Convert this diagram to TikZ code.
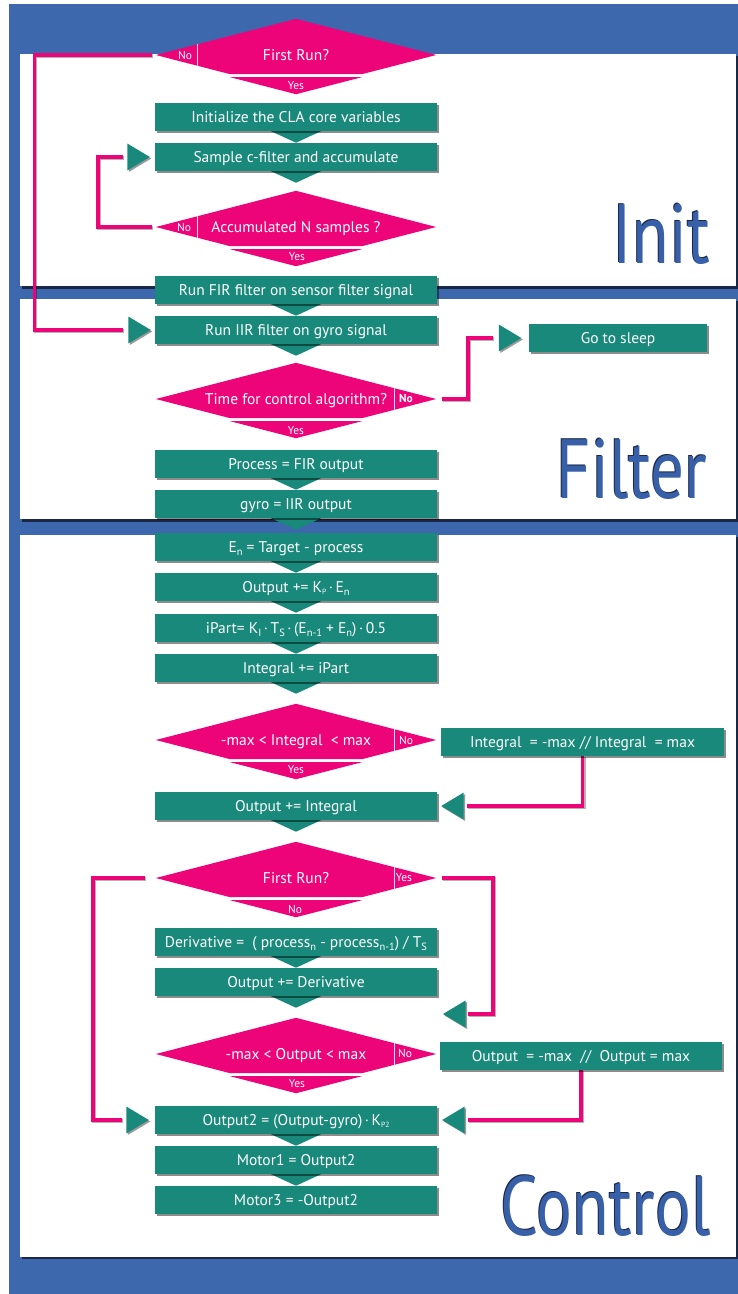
\documentclass[tikz,border=0pt]{standalone}
\usepackage{fontspec}
\setmainfont{PT Sans}
\newfontfamily\bigfont[FakeStretch=0.8]{PT Sans}
\usetikzlibrary{calc,shadows}
\definecolor{bgblue}{RGB}{61,104,174}
\definecolor{tealc}{RGB}{24,137,122}
\definecolor{pinkc}{RGB}{236,4,120}
\definecolor{navy}{RGB}{26,40,70}
\definecolor{lblue}{RGB}{55,96,168}
\newcommand\sbs[1]{\raisebox{-3.5pt}{\fontsize{10.5}{10.5}\selectfont #1}}
\newcommand\tsb[1]{\raisebox{-2pt}{\fontsize{7.5}{7.5}\selectfont #1}}
\pgfdeclarelayer{back}
\pgfdeclarelayer{lines}
\pgfdeclarelayer{shapes}
\pgfsetlayers{back,lines,shapes,main}
\tikzset{
  box/.style={rectangle, fill=tealc, text=white, minimum width=282pt, minimum height=28pt,
    inner sep=0pt, text height=12pt, text depth=2pt, font=\fontsize{15.5}{18}\selectfont,
    drop shadow={shadow xshift=2.2pt, shadow yshift=-2.2pt, opacity=0.45, fill=black}},
  dec/.style={rectangle, minimum width=280pt, minimum height=72pt, inner sep=0pt, text=white,
    text height=12pt, text depth=2pt, font=\fontsize{15.5}{18}\selectfont},
  lab/.style={text=white, inner sep=0pt, font=\fontsize{11.5}{13}\selectfont},
  pinkline/.style={line width=3.6pt, draw=pinkc,
    preaction={draw=black, opacity=0.3, line width=3.6pt, transform canvas={shift={(1.2pt,-1.2pt)}}}},
  arrowfill/.style={fill=tealc, drop shadow={shadow xshift=1.5pt, shadow yshift=-1.5pt, opacity=0.4, fill=black}},
  sepline/.style={draw=white, line width=1.1pt, opacity=0.85},
  biglab/.style={anchor=base east, inner sep=0pt, font=\bigfont\fontsize{84}{84}\selectfont}
}
\newcommand\decshape[1]{%
  \fill[pinkc] (#1.west) -- (#1.north) -- (#1.east) -- ($(#1.east)!0.53!(#1.south)$) -- ($(#1.west)!0.53!(#1.south)$) -- cycle;
  \fill[pinkc] ($(#1.west)!0.53!(#1.south)+(0,3)$) -- ($(#1.east)!0.53!(#1.south)+(0,3)$) -- ($(#1.south)+(0,3)$) -- cycle;}
\newcommand\tabL[1]{\draw[sepline] ($(#1.west)!0.3!(#1.north)$) -- ($(#1.west)!0.3!(#1.south)$);}
\newcommand\tabR[1]{\draw[sepline] ($(#1.east)!0.3!(#1.north)$) -- ($(#1.east)!0.3!(#1.south)$);}
\newcommand\dtri[1]{\fill[tealc] ($(#1.south)+(-25,0)$) -- ($(#1.south)+(25,0)$) -- ($(#1.south)+(0,11.5)$) -- cycle;}
\newcommand\arrR[1]{\fill[arrowfill] (#1) -- ++(-22.5,-13.5) -- ++(0,27) -- cycle;}
\newcommand\arrL[1]{\fill[arrowfill] (#1) -- ++(22.5,-13.5) -- ++(0,27) -- cycle;}
\begin{document}
\begin{tikzpicture}[x=1pt,y=-1pt]
\useasboundingbox (0,0) rectangle (738,1294);
% ---------- background and panels
\begin{pgfonlayer}{back}
  \fill[bgblue] (9,4) rectangle (738,1294);
  \fill[navy] (21.5,56) rectangle (737.8,288.5);
  \fill[white] (20,54) rectangle (736,286);
  \fill[navy] (21.5,301) rectangle (737.8,521.5);
  \fill[white] (20,299) rectangle (736,519);
  \fill[navy] (21.5,537) rectangle (737.8,1259);
  \fill[white] (20,535) rectangle (736,1256.5);
  \node[biglab, text=navy] at (709,262) {Init};
  \node[biglab, text=lblue] at (710,263) {Init};
  \node[biglab, text=navy] at (707,497) {Filter};
  \node[biglab, text=lblue] at (708,498) {Filter};
  \node[biglab, text=navy] at (710,1234) {Control};
  \node[biglab, text=lblue] at (711,1235) {Control};
\end{pgfonlayer}
% ---------- decisions (text nodes)
\node[dec] (d1) at (296,55) {First Run?};
\node[dec] (d2) at (296,227) {Accumulated N samples ?};
\node[dec] (d3) at (296,399) {Time for control algorithm?};
\node[dec] (d4) at (296,740) {-max < Integral \ < max};
\node[dec] (d5) at (296,878) {First Run?};
\node[dec] (d6) at (296,1054) {-max < Output < max};
% decision labels
\node[lab] (d1n) at (185,55) {No};
\node[lab] (d1y) at (296,86) {Yes};
\node[lab] (d2n) at (184,227) {No};
\node[lab] (d2y) at (297,257) {Yes};
\node[lab, font=\bfseries\fontsize{11.5}{13}\selectfont] (d3n) at (406,399) {No};
\node[lab] (d3y) at (296,431) {Yes};
\node[lab] (d4n) at (406,740) {No};
\node[lab] (d4y) at (296,770) {Yes};
\node[lab] (d5y) at (404,878) {Yes};
\node[lab] (d5n) at (295,909) {No};
\node[lab] (d6n) at (405,1053) {No};
\node[lab] (d6y) at (297,1084) {Yes};
% ---------- process boxes
\node[box] (init) at (296,117) {Initialize the CLA core variables};
\node[box] (sample) at (296,157) {Sample c-filter and accumulate};
\node[box] (fir) at (296,290) {Run FIR filter on sensor filter signal};
\node[box] (iir) at (296,330) {Run IIR filter on gyro signal};
\node[box, minimum width=178pt] (sleep) at (618,338) {Go to sleep};
\node[box] (proc) at (296,464) {Process = FIR output};
\node[box] (gyro) at (296,504) {gyro = IIR output};
\node[box] (en) at (296,547) {E\sbs{n} = Target - process};
\node[box] (outkp) at (296,587) {Output += K\tsb{P}\,·\,E\sbs{n}};
\node[box] (ipart) at (296,628) {iPart= K\sbs{I}\,·\,T\sbs{S}\,·\,(E\sbs{n-1} + E\sbs{n})\,·\,0.5};
\node[box] (integ) at (296,668) {Integral += iPart};
\node[box, minimum width=283pt] (intmax) at (582.5,742) {Integral \ = -max // Integral \ = max};
\node[box] (outint) at (296,806) {Output += Integral};
\node[box] (deriv) at (296,942) {Derivative = \ ( process\sbs{n} - process\sbs{n-1}) / T\sbs{S}};
\node[box] (outder) at (296,982) {Output += Derivative};
\node[box] (outmax) at (581,1056) {Output \ = -max \ // \ Output = max};
\node[box] (out2) at (296,1120) {Output2 = (Output-gyro)\,·\,K\tsb{P2}};
\node[box] (m1) at (296,1160) {Motor1 = Output2};
\node[box] (m3) at (296,1200) {Motor3 = -Output2};
\coordinate (yesin) at (443,1014);
% ---------- shapes layer
\begin{pgfonlayer}{shapes}
  \decshape{d1}\tabL{d1}
  \decshape{d2}\tabL{d2}
  \decshape{d3}\tabR{d3}
  \decshape{d4}\tabR{d4}
  \decshape{d5}\tabR{d5}
  \decshape{d6}\tabR{d6}
  \dtri{init}\dtri{sample}\dtri{fir}\dtri{iir}\dtri{proc}\dtri{gyro}
  \dtri{en}\dtri{outkp}\dtri{ipart}\dtri{integ}\dtri{outint}
  \dtri{deriv}\dtri{outder}\dtri{out2}\dtri{m1}
  \arrR{$(sample.west)+(-5,0)$}
  \arrR{$(iir.west)+(-4,0)$}
  \arrR{$(sleep.west)+(-7.5,0)$}
  \arrL{$(outint.east)+(4,0)$}
  \arrL{yesin}
  \arrR{$(out2.west)+(-6,0)$}
  \arrL{$(out2.east)+(5,0)$}
\end{pgfonlayer}
% ---------- connectors
\begin{pgfonlayer}{lines}
  \draw[pinkline] ($(d1.west)+(-4,0)$) -- ++(-117.5,0) |- ($(iir.west)+(-32,0)$);
  \draw[pinkline] ($(d2.west)+(-4,0)$) -- ++(-54,0) |- ($(sample.west)+(-32,0)$);
  \draw[pinkline] ($(d3.east)+(6,0)$) -- ++(26,0) |- ($(sleep.west)+(-36,0)$);
  \draw[pinkline] (intmax.south) |- ($(outint.east)+(30,0)$);
  \draw[pinkline] ($(d5.west)+(-11,0)$) -- ++(-52,0) |- ($(out2.west)+(-33,0)$);
  \draw[pinkline] ($(d5.east)+(6,0)$) -- ++(51,0) |- ($(yesin)+(25,0)$);
  \draw[pinkline] (outmax.south) |- ($(out2.east)+(31,0)$);
\end{pgfonlayer}
\end{tikzpicture}
\end{document}
